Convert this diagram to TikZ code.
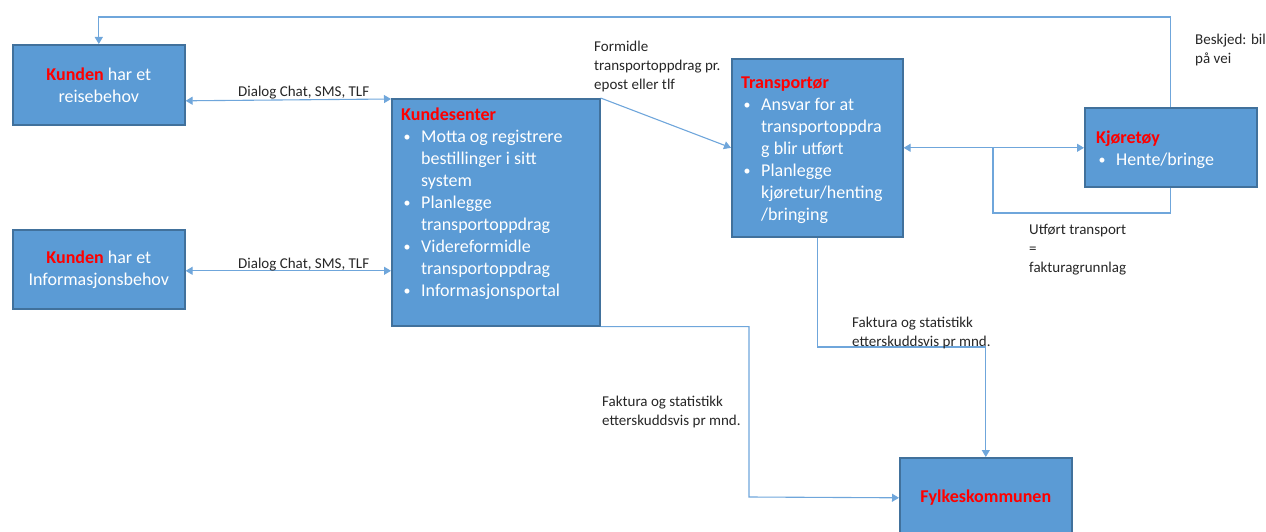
\documentclass[tikz,border=0pt]{standalone}
\usepackage{fontspec}
\setmainfont{Carlito}
\usetikzlibrary{arrows.meta,positioning}

\definecolor{boxblue}{HTML}{5B9BD5}
\definecolor{boxedge}{HTML}{41719C}
\definecolor{linkblue}{HTML}{6FA6DB}
\definecolor{labelgray}{HTML}{262626}

\tikzset{
  actor/.style={draw=boxedge, line width=1.6pt, fill=boxblue, anchor=north west, inner sep=0pt},
  boxtext/.style={text=white, font=\fontsize{18}{22}\selectfont, align=left, anchor=north west, inner sep=0pt},
  flow/.style={draw=linkblue, line width=1.1pt},
  flowlabel/.style={text=labelgray, font=\fontsize{15}{18.8}\selectfont, align=left, anchor=north west, inner sep=0pt},
  >={Triangle[width=8pt,length=7pt]}
}
\newcommand{\hd}[1]{\textcolor{red}{\textbf{#1}}}
\newcommand{\itm}{\makebox[20pt][l]{\hspace{2.5pt}\raisebox{1pt}{\fontsize{14}{14}\selectfont\textbullet}}}
\newcommand{\cnt}{\hspace*{20pt}}

\begin{document}
\begin{tikzpicture}[x=1pt, y=-1pt]

  \useasboundingbox (0,0) rectangle (1266,532);

  % -- Customers --
  \node[actor, minimum width=172pt, minimum height=80pt, align=center, text=white,
        font=\fontsize{18}{22}\selectfont] (reise) at (12,44) {\hd{Kunden} har et\\reisebehov};
  \node[actor, minimum width=172pt, minimum height=79pt, align=center, text=white,
        font=\fontsize{18}{22}\selectfont] (info) at (12,229) {\hd{Kunden} har et\\Informasjonsbehov};

  % -- Kundesenter --
  \node[actor, minimum width=208pt, minimum height=227pt] (ks) at (391,98) {};
  \node[boxtext] (ks-txt) at (401,108) {\hd{Kundesenter}\\
    \itm Motta og registrere\\ \cnt bestillinger i sitt\\ \cnt system\\
    \itm Planlegge\\ \cnt transportoppdrag\\
    \itm Videreformidle\\ \cnt transportoppdrag\\
    \itm Informasjonsportal};

  % -- Transportør --
  \node[actor, minimum width=171pt, minimum height=178pt] (tr) at (731,58) {};
  \node[boxtext] (tr-txt) at (741,77) {\hd{Transportør}\\
    \itm Ansvar for at\\ \cnt transportoppdra\\ \cnt g blir utført\\
    \itm Planlegge\\ \cnt kjøretur/henting\\ \cnt /bringing};

  % -- Kjøretøy --
  \node[actor, minimum width=172pt, minimum height=79pt] (kj) at (1084,107) {};
  \node[boxtext] (kj-txt) at (1096,131) {\hd{Kjøretøy}\\ \itm Hente/bringe};

  % -- Fylkeskommunen --
  \node[actor, minimum width=172pt, minimum height=80pt,
        font=\fontsize{18}{22}\selectfont] (fy) at (899,457) {\hd{Fylkeskommunen}};

  % -- Dialog with customers --
  \draw[flow, <->] ([yshift=-16pt]reise.east) -- ([yshift=-1pt]ks.north west);
  \node[flowlabel] (dialog1) at (238,86) {Dialog Chat, SMS, TLF};
  \draw[flow, <->] ([yshift=-1.5pt]info.east) -- ([yshift=-1.5pt]info.east -| ks.west);
  \node[flowlabel] (dialog2) at (238,258) {Dialog Chat, SMS, TLF};

  % -- Order to transport company --
  \draw[flow, ->] (ks.north east) -- (tr.west);
  \node[flowlabel] (order) at (594,41) {Formidle\\transportoppdrag pr.\\epost eller tlf};

  % -- Transport company and vehicle --
  \coordinate (split) at (993,147);
  \draw[flow, <->] (tr.east) -- (tr.east -| kj.west);
  \draw[flow] (split) |- (kj.south |- 0,213) -- (kj.south);
  \node[flowlabel] (done) at (1029,224) {Utført transport\\=\\fakturagrunnlag};

  % -- Message back to customer --
  \draw[flow, ->] (kj.north) -- (kj.north |- 0,17) -| (reise.north);
  \node[flowlabel] (msg) at (1195,34) {Beskjed: bil\\på vei};

  % -- Invoices to county --
  \draw[flow, ->] (tr.south) |- (fy.north |- 0,347) -- (fy.north);
  \node[flowlabel] (bill1) at (852,317) {Faktura og statistikk\\etterskuddsvis pr mnd.};
  \draw[flow, ->] (ks.south east) -| (749,497) -- (fy.west);
  \node[flowlabel] (bill2) at (602,396) {Faktura og statistikk\\etterskuddsvis pr mnd.};

\end{tikzpicture}
\end{document}
